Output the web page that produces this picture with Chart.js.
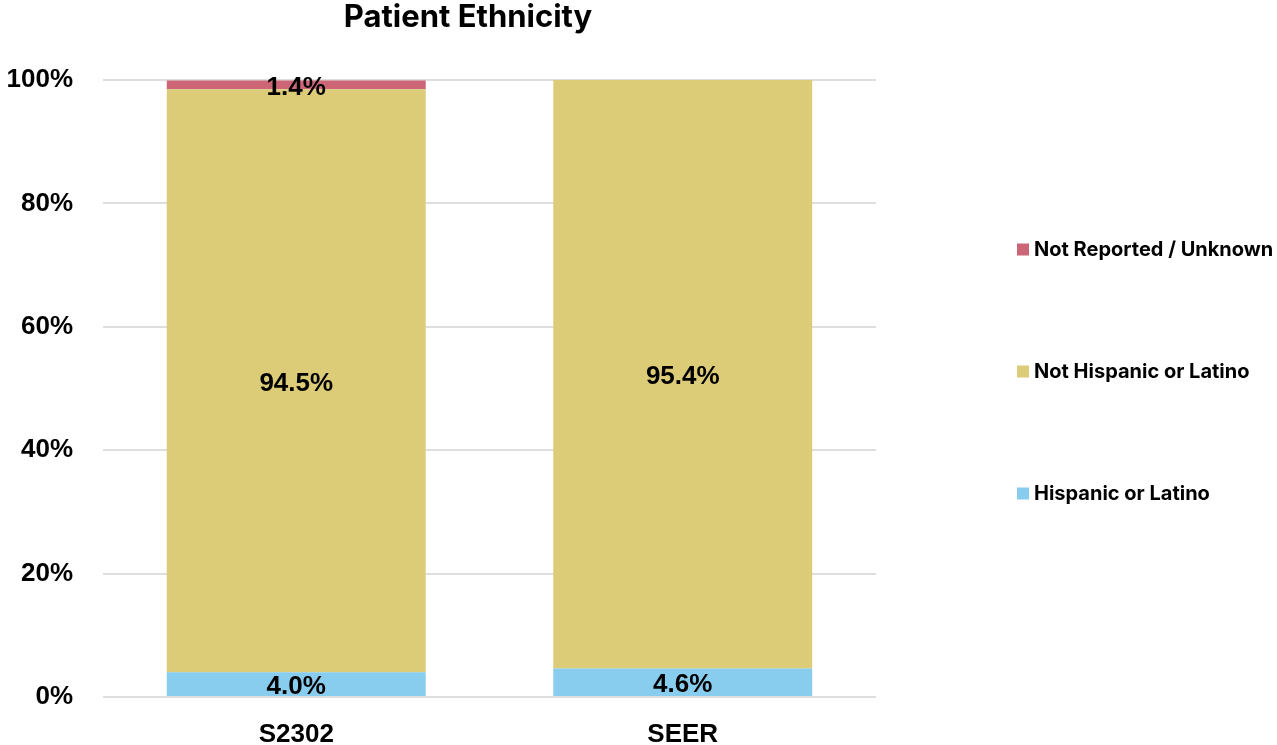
<!DOCTYPE html>
<html>
<head>
<meta charset="utf-8">
<title>Patient Ethnicity</title>
<script src="https://cdn.jsdelivr.net/npm/chart.js@4.4.1/dist/chart.umd.min.js"></script>
<style>
  html, body { margin: 0; padding: 0; background: #fff; }
  #wrap { position: relative; width: 1277px; height: 745px; }
</style>
</head>
<body>
<div id="wrap"><canvas id="chart"></canvas></div>
<script>
const categories = ["S2302", "SEER"]
const hispanic = [4.0, 4.6]
const notHispanic = [94.5, 95.4]
const notReported = [1.4, 0]
const seriesNames = ["Hispanic or Latino", "Not Hispanic or Latino", "Not Reported / Unknown"]
const yTicks = [0, 20, 40, 60, 80, 100]

const colors = {
  blue: "#88ccee",
  sand: "#ddcc77",
  rose: "#cc6677",
}

const labelFont = "bold 26px 'Liberation Sans', Arial, sans-serif"

// value labels in the middle of each stacked segment
const segmentLabels = {
  id: "segmentLabels",
  afterDatasetsDraw(chart) {
    const ctx = chart.ctx
    ctx.save()
    ctx.font = labelFont
    ctx.fillStyle = "#000"
    ctx.textAlign = "center"
    ctx.textBaseline = "middle"
    chart.data.datasets.forEach((ds, i) => {
      chart.getDatasetMeta(i).data.forEach((bar, j) => {
        const v = ds.data[j]
        if (!v) return
        ctx.fillText(v.toFixed(1) + "%", bar.x, (bar.y + bar.base) / 2 + 3)
      })
    })
    ctx.restore()
  },
}

// title and side legend, placed the way the original slide had them
const sideLegend = {
  id: "sideLegend",
  afterDraw(chart) {
    const ctx = chart.ctx
    const area = chart.chartArea
    ctx.save()
    ctx.textBaseline = "middle"
    ctx.fillStyle = "#000"
    ctx.font = "bold 31px Inter, 'Liberation Sans', sans-serif"
    ctx.textAlign = "center"
    ctx.fillText("Patient Ethnicity", area.left + 365, 18)

    ctx.font = "bold 20px Inter, 'Liberation Sans', sans-serif"
    ctx.textAlign = "left"
    const items = chart.data.datasets.slice().reverse()
    const mid = chart.height / 2 - 1
    items.forEach((ds, i) => {
      const y = mid + (i - 1) * 122
      const x = area.right + 141
      ctx.fillStyle = ds.backgroundColor
      ctx.fillRect(x, y - 6, 12, 12)
      ctx.fillStyle = "#000"
      ctx.fillText(ds.label, x + 17, y)
    })
    ctx.restore()
  },
}

const data = {
  labels: categories,
  datasets: [
    { label: seriesNames[0], data: hispanic, backgroundColor: colors.blue },
    { label: seriesNames[1], data: notHispanic, backgroundColor: colors.sand },
    { label: seriesNames[2], data: notReported, backgroundColor: colors.rose },
  ],
}

const options = {
  responsive: true,
  maintainAspectRatio: false,
  animation: false,
  layout: {
    padding: { top: 80, right: 401, bottom: 0, left: 0 },
  },
  datasets: {
    bar: {
      categoryPercentage: 1,
      barPercentage: 0.67,
      borderWidth: 0,
    },
  },
  plugins: {
    legend: { display: false },
    title: { display: false },
    tooltip: { enabled: false },
  },
  scales: {
    x: {
      stacked: true,
      grid: { display: false },
      border: { display: false },
      ticks: {
        color: "#000",
        padding: 17,
        font: { family: "'Liberation Sans', Arial, sans-serif", size: 26, weight: "bold", lineHeight: 1 },
      },
      afterFit(scale) {
        scale.height = 48
      },
    },
    y: {
      stacked: true,
      min: 0,
      max: 100,
      afterBuildTicks(scale) {
        scale.ticks = yTicks.map((v) => ({ value: v }))
      },
      grid: {
        color: "#dedede",
        lineWidth: 2,
        drawTicks: false,
      },
      border: { display: false },
      ticks: {
        color: "#000",
        padding: 30,
        font: { family: "'Liberation Sans', Arial, sans-serif", size: 26, weight: "bold" },
        callback: (v) => v + "%",
      },
      afterFit(scale) {
        scale.width = 103
      },
    },
  },
}

new Chart(document.getElementById("chart"), {
  type: "bar",
  data: data,
  options: options,
  plugins: [segmentLabels, sideLegend],
})
</script>
</body>
</html>
